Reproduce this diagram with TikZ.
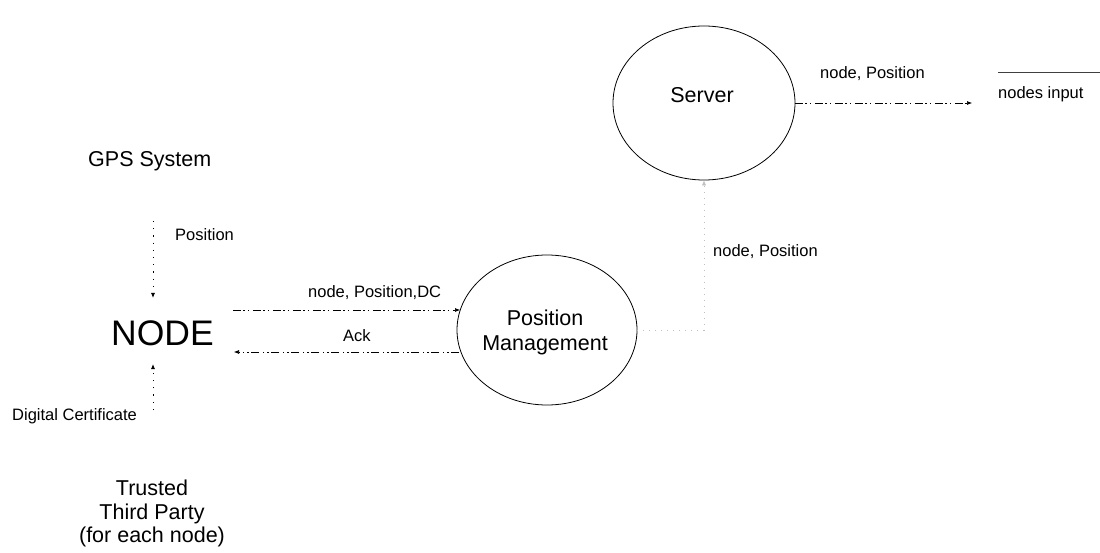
\documentclass[tikz,border=0pt]{standalone}
\usepackage{fontspec}
\setmainfont{Liberation Sans}
\usetikzlibrary{arrows.meta,shapes.geometric}
\begin{document}
\begin{tikzpicture}[x=1pt,y=-1pt,
  big/.style={font=\fontsize{21.5}{24}\selectfont, inner sep=0pt},
  small/.style={font=\fontsize{16.5}{20}\selectfont, inner sep=0pt},
  proc/.style={draw=black, line width=0.8pt, ellipse, inner sep=0pt, align=center,
     font=\fontsize{21}{25}\selectfont},
  flow/.style={line width=0.6pt, dash pattern=on 8pt off 2pt on 2pt off 3pt on 1pt off 4pt,
     -{Latex[length=5pt,width=4pt]}},
  dotflow/.style={line width=0.8pt, dash pattern=on 1.2pt off 6pt,
     -{Latex[length=5pt,width=4pt]}},
  faint/.style={line width=0.5pt, draw=black!25, dash pattern=on 1pt off 5pt,
     -{Latex[length=5pt,width=4pt]}},
  store/.style={line width=0.8pt, draw=black!75}]
\useasboundingbox (0,0) rectangle (1100,553);

% processes
\node[proc, minimum width=182pt, minimum height=154pt] (server) at (704,103) {};
\node[big, anchor=base] (servert) at (702,103) {Server};
\node[proc, minimum width=180pt, minimum height=150pt] (pm) at (547,330) {};
\node[big, anchor=base] (pmt1) at (545,325) {Position};
\node[big, anchor=base] (pmt2) at (545,350) {Management};

% external entities
\node[big, anchor=base west] (gps) at (88,167) {GPS System};
\node[font=\fontsize{35.5}{38}\selectfont, inner sep=0pt, anchor=base west] (nodeN) at (111,345) {NODE};
\node[big, anchor=base] (ttp1) at (152,495) {Trusted};
\node[big, anchor=base] (ttp2) at (152,519) {Third Party};
\node[big, anchor=base] (ttp3) at (152,542) {(for each node)};

% data store
\coordinate (ds1) at (998,72);
\coordinate (ds2) at (1100,72);
\draw[store] (ds1) -- (ds2);
\node[small, anchor=base west] (ni) at (998,99) {nodes input};

% labels
\node[small, anchor=base west] (lpos) at (175,241) {Position};
\node[small, anchor=base west] (ldc) at (12,420) {Digital Certificate};
\node[small, anchor=base west] (lnpdc) at (308,298) {node, Position,DC};
\node[small, anchor=base west] (lack) at (343,341) {Ack};
\node[small, anchor=base west] (lnp1) at (820,79) {node, Position};
\node[small, anchor=base west] (lnp2) at (713,257) {node, Position};

% connectors
\coordinate (g1) at (153,221);
\coordinate (g2) at (153,298);
\draw[dotflow] (g1) -- (g2);
\coordinate (t1) at (153,410);
\coordinate (t2) at (153,364);
\draw[dotflow] (t1) -- (t2);

\coordinate (n1) at (233,310);
\coordinate (p1) at (460,310);
\draw[flow] (n1) -- (p1);

\coordinate (p2) at (459,352);
\coordinate (n2) at (234,352);
\draw[flow] (p2) -- (n2);

\coordinate (s1) at (972,103);
\draw[flow] (server.east) -- (s1);

\coordinate (c1) at (704,330);
\draw[faint] (pm.east) -- (c1) -- (server.south);
\end{tikzpicture}
\end{document}
